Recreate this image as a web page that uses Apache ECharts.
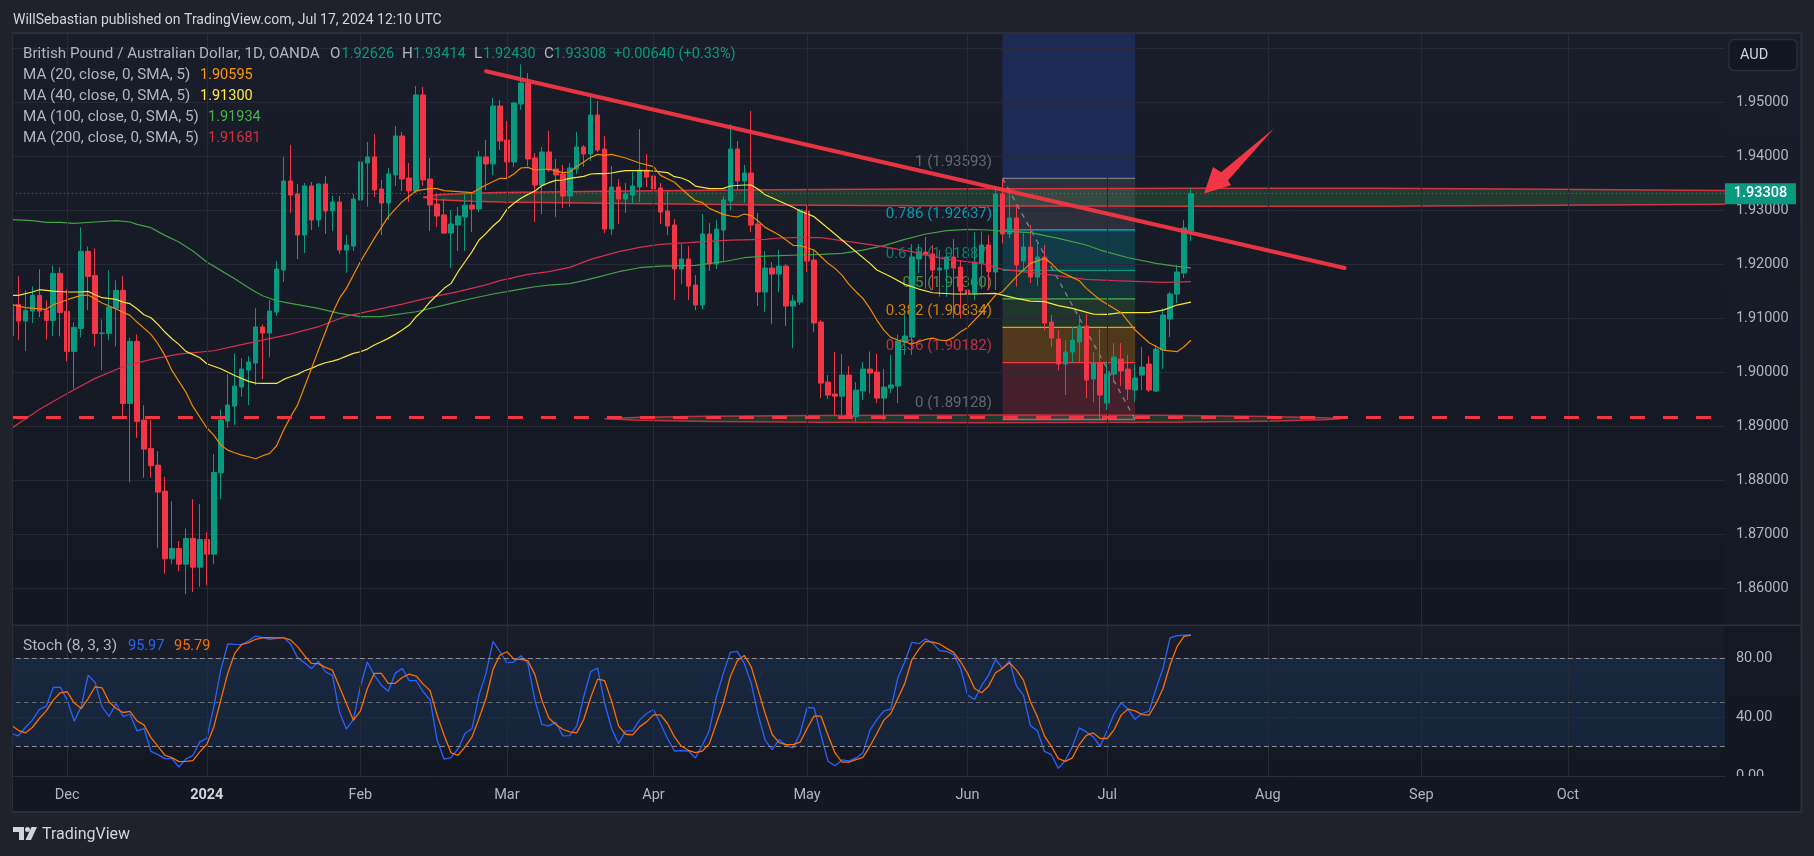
<!DOCTYPE html>
<html><head><meta charset="utf-8">
<style>html,body{margin:0;padding:0;background:#1f222b}#c{width:1814px;height:856px}</style>
<script src="https://cdn.jsdelivr.net/npm/echarts@6/dist/echarts.min.js"></script>
</head><body><div id="c"></div>
<script>
const opens=[1.90685,1.91259,1.90951,1.91136,1.91426,1.91148,1.90963,1.91833,1.9113,1.90389,
1.90815,1.92241,1.91796,1.9072,1.90722,1.91185,1.91519,1.89426,1.90574,1.89117,
1.88593,1.88284,1.87802,1.86549,1.86741,1.8645,1.86926,1.86395,1.86907,1.86636,
1.88142,1.89099,1.89377,1.89728,1.90043,1.90173,1.9084,1.90728,1.91117,1.91895,
1.93543,1.93302,1.92543,1.93451,1.92821,1.93488,1.92988,1.93154,1.92265,1.92339,
1.93191,1.93877,1.93988,1.93395,1.93136,1.93654,1.94377,1.93599,1.93358,1.95136,
1.9358,1.93117,1.92914,1.9258,1.92728,1.92877,1.93099,1.93025,1.93988,1.93858,
1.94932,1.94302,1.93895,1.94969,1.95358,1.93969,1.93469,1.9408,1.93765,1.93673,
1.93265,1.93765,1.94173,1.94043,1.94765,1.94136,1.92654,1.93432,1.9321,1.93284,
1.93432,1.93747,1.93636,1.93414,1.92988,1.92728,1.91914,1.92099,1.91617,1.91247,
1.92562,1.92006,1.92636,1.93173,1.94136,1.93543,1.93691,1.92747,1.91488,1.91932,
1.91821,1.91969,1.91228,1.91302,1.92988,1.9208,1.90932,1.89821,1.8960,1.8956,
1.8995,1.89179,1.89654,1.90062,1.90006,1.89525,1.8971,1.89747,1.90562,1.90654,
1.921,1.92228,1.92191,1.91895,1.91914,1.92136,1.9195,1.91525,1.9147,1.92025,
1.92358,1.91858,1.93302,1.92562,1.92858,1.92062,1.92321,1.91765,1.92136,1.90932,
1.90617,1.90154,1.90377,1.90562,1.90858,1.89877,1.90173,1.89432,1.89969,1.90247,
1.90062,1.89673,1.8995,1.90154,1.89654,1.90414,1.90988,1.91451,1.9184,1.92626];
const closes=[1.91241,1.90951,1.91148,1.91426,1.91136,1.90963,1.91833,1.91111,1.90389,1.90833,
1.92241,1.91778,1.90722,1.9073,1.9121,1.91519,1.89426,1.90574,1.89093,1.8858,
1.88272,1.87784,1.86549,1.86741,1.8645,1.86926,1.86395,1.86907,1.86636,1.88148,
1.89117,1.89395,1.89747,1.90062,1.90191,1.9084,1.90728,1.91136,1.91914,1.93543,
1.93284,1.92543,1.93451,1.92821,1.93488,1.92988,1.93154,1.92265,1.92358,1.9321,
1.93895,1.93988,1.93377,1.93136,1.93673,1.94377,1.9358,1.93358,1.95136,1.93562,
1.93099,1.92895,1.9258,1.92747,1.92895,1.93099,1.93025,1.93988,1.93858,1.94932,
1.94284,1.93895,1.94988,1.95358,1.93951,1.93469,1.9408,1.93747,1.93654,1.93265,
1.93784,1.94173,1.94043,1.94765,1.94117,1.92654,1.93432,1.9321,1.93302,1.93451,
1.93747,1.93617,1.93395,1.92969,1.9271,1.91914,1.92099,1.91599,1.91247,1.92562,
1.92006,1.92654,1.93191,1.94136,1.93543,1.93691,1.92728,1.91488,1.91932,1.91821,
1.91969,1.91228,1.91321,1.93006,1.92062,1.90914,1.89802,1.8958,1.8956,1.8995,
1.89179,1.89673,1.90062,1.89988,1.89525,1.89728,1.89765,1.9058,1.90673,1.92136,
1.92228,1.92173,1.91895,1.91932,1.92136,1.91932,1.91506,1.9147,1.92043,1.92358,
1.91864,1.93302,1.92562,1.92858,1.91988,1.92321,1.91765,1.92136,1.90914,1.90636,
1.90154,1.90377,1.90599,1.90858,1.89858,1.90173,1.8958,1.89969,1.90284,1.90025,
1.89691,1.89895,1.90099,1.89673,1.90432,1.91062,1.91451,1.91858,1.92673,1.93308];
const highs=[1.9135,1.91778,1.91519,1.91593,1.91907,1.91333,1.91981,1.91944,1.91537,1.90926,
1.92685,1.92333,1.92296,1.90981,1.91889,1.91704,1.91778,1.90648,1.90704,1.89395,
1.89117,1.88543,1.88068,1.87617,1.86877,1.87111,1.87654,1.87562,1.87043,1.88488,
1.89315,1.89969,1.90352,1.90259,1.90302,1.91191,1.9089,1.9134,1.92062,1.93988,
1.9421,1.93488,1.93506,1.93525,1.935,1.93636,1.93265,1.93265,1.92543,1.93302,
1.9458,1.94265,1.94414,1.93562,1.93784,1.94562,1.9445,1.93877,1.95302,1.95284,
1.93969,1.93315,1.9321,1.93006,1.93062,1.93302,1.93302,1.94099,1.94302,1.9508,
1.95043,1.94654,1.95006,1.95703,1.95543,1.94062,1.94173,1.94469,1.93951,1.9384,
1.93877,1.94451,1.9421,1.95099,1.95025,1.94377,1.93821,1.9358,1.93506,1.9371,
1.94506,1.94043,1.93858,1.93506,1.93358,1.92839,1.92395,1.92339,1.91802,1.92932,
1.92765,1.92821,1.93265,1.94599,1.94284,1.9384,1.9484,1.92951,1.92247,1.92043,
1.92265,1.92006,1.91432,1.9303,1.93099,1.92265,1.9097,1.8995,1.90377,1.9034,
1.90117,1.8982,1.90191,1.90389,1.9034,1.90062,1.90321,1.907,1.91093,1.92377,
1.92377,1.92506,1.92358,1.92265,1.922,1.92469,1.9208,1.91833,1.92599,1.92611,
1.92543,1.93377,1.93593,1.93377,1.93117,1.92574,1.92728,1.92395,1.92358,1.9106,
1.90784,1.90599,1.9084,1.91062,1.9108,1.90377,1.90802,1.9021,1.90543,1.90543,
1.90321,1.90154,1.90469,1.90302,1.90506,1.91191,1.91494,1.91988,1.92821,1.93414];
const lows=[1.9065,1.90605,1.90395,1.90914,1.91025,1.90611,1.90673,1.90667,1.90204,1.89698,
1.90648,1.91148,1.90481,1.90037,1.90593,1.90481,1.8916,1.87964,1.88789,1.8805,
1.8805,1.86753,1.86278,1.8645,1.86321,1.85895,1.85932,1.86031,1.86062,1.8645,
1.87654,1.88975,1.89025,1.89549,1.89395,1.89765,1.89877,1.90278,1.91043,1.91673,
1.92951,1.92099,1.9221,1.92636,1.92691,1.92562,1.92617,1.92191,1.91846,1.92247,
1.92858,1.93068,1.93247,1.92543,1.92821,1.93451,1.93358,1.93154,1.9332,1.93451,
1.92617,1.92691,1.92562,1.91932,1.92247,1.92247,1.92599,1.92969,1.93377,1.93654,
1.94117,1.93599,1.93802,1.94858,1.93821,1.92784,1.92932,1.9371,1.92877,1.93043,
1.93062,1.93673,1.93802,1.93914,1.9408,1.9258,1.92543,1.92747,1.92951,1.93136,
1.93154,1.93432,1.93309,1.92747,1.92543,1.9134,1.91636,1.9134,1.91154,1.91173,
1.91877,1.91914,1.92043,1.93006,1.93377,1.93136,1.92599,1.91228,1.91117,1.90895,
1.91488,1.90858,1.90451,1.91247,1.91858,1.90747,1.89525,1.89506,1.8921,1.8921,
1.8915,1.89086,1.89488,1.89611,1.89432,1.89117,1.89617,1.89432,1.90327,1.90321,
1.91833,1.9155,1.91525,1.914,1.914,1.91,1.91,1.90957,1.9134,1.9155,
1.91525,1.91525,1.92389,1.92488,1.91586,1.91895,1.91654,1.91599,1.90784,1.90469,
1.90043,1.8958,1.90173,1.90191,1.89525,1.8945,1.89142,1.89302,1.89815,1.89747,
1.89488,1.8945,1.89673,1.89636,1.89636,1.90062,1.90654,1.91284,1.91747,1.9243];

const ma20=[[0,1.91259],[2,1.91198],[5,1.91167],[6,1.91253],[8,1.91346],[10,1.91426],[11,1.91432],[13,1.91284],[15,1.91173],[17,1.91056],[18,1.90932],[20,1.90704],[21,1.90531],[22,1.90315],[23,1.90037],[25,1.89636],[26,1.8937],[28,1.88975],[29,1.8884],[30,1.88654],[31,1.88562],[32,1.88512],[33,1.88469],[34,1.88438],[35,1.88401],[36,1.88457],[37,1.885],[38,1.88642],[39,1.88932],[40,1.89179],[41,1.89395],[42,1.89735],[43,1.90074],[44,1.90414],[45,1.90753],[46,1.91093],[47,1.9137],[48,1.91556],[50,1.92049],[52,1.92481],[54,1.92883],[56,1.9316],[58,1.93364],[60,1.93401],[61,1.93401],[62,1.93364],[64,1.93346],[66,1.93327],[68,1.93469],[70,1.93593],[71,1.93593],[72,1.93673],[73,1.93784],[74,1.93796],[75,1.93747],[77,1.93765],[79,1.93698],[80,1.9371],[81,1.93809],[83,1.93981],[84,1.94037],[85,1.94019],[86,1.94037],[88,1.93969],[90,1.93877],[92,1.93809],[93,1.93648],[95,1.93519],[97,1.93284],[98,1.93179],[99,1.93142],[100,1.93037],[102,1.92926],[103,1.92895],[104,1.92877],[105,1.92932],[106,1.92901],[107,1.92802],[108,1.92685],[110,1.92543],[111,1.92451],[112,1.92352],[113,1.92346],[115,1.92265],[116,1.92142],[117,1.92019],[118,1.91926],[119,1.91802],[120,1.9163],[121,1.91494],[122,1.9137],[123,1.91185],[124,1.90969],[125,1.90784],[126,1.90648],[127,1.90599],[128,1.90562],[129,1.90525],[130,1.90568],[131,1.90611],[132,1.90636],[133,1.90599],[134,1.90586],[135,1.90648],[136,1.90753],[137,1.90833],[138,1.90969],[139,1.91105],[140,1.91278],[141,1.91432],[142,1.91494],[144,1.91772],[146,1.92019],[148,1.92111],[149,1.92019],[150,1.91883],[152,1.91759],[153,1.91698],[154,1.91556],[156,1.9134],[158,1.91185],[159,1.91105],[161,1.90784],[163,1.90549],[165,1.90414],[167,1.90383],[168,1.90475],[169,1.90595]];
const ma40=[[0,1.91426],[1,1.91426],[3,1.91488],[4,1.91531],[6,1.91506],[8,1.91488],[10,1.91488],[11,1.915],[12,1.91438],[13,1.91383],[15,1.91352],[16,1.91302],[17,1.91272],[18,1.91179],[19,1.91068],[20,1.91012],[21,1.90889],[22,1.90747],[23,1.90623],[24,1.90519],[25,1.90389],[26,1.90333],[27,1.90272],[28,1.9016],[30,1.90068],[32,1.89944],[34,1.89833],[35,1.89802],[36,1.89796],[38,1.89796],[39,1.8987],[40,1.8992],[41,1.89963],[42,1.90031],[43,1.90074],[44,1.90136],[45,1.90179],[46,1.9021],[47,1.90247],[48,1.90302],[49,1.90352],[50,1.90383],[51,1.90432],[52,1.90506],[53,1.90568],[54,1.9063],[55,1.90704],[56,1.90784],[57,1.90877],[58,1.91031],[59,1.91154],[60,1.91309],[61,1.91432],[62,1.91556],[63,1.91648],[64,1.91864],[65,1.92049],[66,1.92235],[67,1.92451],[68,1.92574],[69,1.9271],[70,1.92821],[71,1.93019],[72,1.9313],[73,1.93222],[74,1.93296],[75,1.93358],[76,1.93457],[77,1.93512],[78,1.93556],[79,1.93562],[80,1.93593],[81,1.93611],[82,1.9363],[83,1.93673],[84,1.93679],[85,1.93679],[86,1.93691],[87,1.93716],[88,1.93735],[90,1.93735],[92,1.93728],[94,1.93698],[95,1.93623],[96,1.93599],[97,1.93549],[98,1.9345],[99,1.93426],[100,1.93401],[102,1.93407],[103,1.93451],[105,1.93469],[106,1.93469],[107,1.93389],[108,1.9329],[110,1.93173],[112,1.93056],[113,1.92988],[115,1.92883],[117,1.92667],[119,1.92451],[121,1.92235],[123,1.92019],[124,1.91895],[126,1.91772],[128,1.9163],[130,1.91543],[132,1.91475],[135,1.91451],[138,1.91451],[141,1.91463],[142,1.91432],[144,1.9137],[146,1.91321],[148,1.91309],[150,1.91235],[152,1.91185],[155,1.9108],[157,1.91074],[159,1.91105],[163,1.91105],[165,1.91154],[167,1.91247],[169,1.913]];
const ma100=[[0,1.92827],[3,1.92809],[5,1.92778],[7,1.92778],[9,1.92759],[12,1.92784],[15,1.92809],[17,1.92784],[18,1.92741],[20,1.92679],[22,1.92537],[24,1.92414],[26,1.92247],[28,1.92043],[30,1.91889],[32,1.91735],[34,1.91568],[35,1.91488],[36,1.9142],[38,1.91327],[40,1.91278],[44,1.91185],[47,1.91093],[50,1.91031],[53,1.91031],[58,1.91123],[62,1.91247],[65,1.9134],[69,1.91451],[73,1.91543],[75,1.91586],[77,1.91617],[80,1.91642],[82,1.91698],[84,1.91765],[87,1.91864],[90,1.91938],[93,1.91969],[98,1.91981],[102,1.92049],[105,1.92123],[108,1.92154],[110,1.9216],[113,1.92173],[116,1.92185],[119,1.92204],[122,1.92265],[125,1.92346],[128,1.92463],[131,1.92562],[134,1.92623],[137,1.92648],[140,1.92636],[142,1.92617],[146,1.92586],[150,1.92481],[154,1.92358],[156,1.92265],[160,1.92123],[164,1.92019],[167,1.91963],[169,1.91934]];
const ma200=[[0,1.88963],[4,1.89315],[8,1.89611],[12,1.89889],[16,1.90105],[20,1.90241],[24,1.9034],[29,1.90401],[32,1.90488],[36,1.90599],[40,1.9071],[44,1.90846],[48,1.91043],[52,1.91154],[56,1.91265],[60,1.91389],[64,1.91494],[68,1.9162],[70,1.91698],[74,1.91815],[77,1.91864],[80,1.91944],[83,1.92093],[87,1.92235],[90,1.92315],[93,1.9237],[97,1.92401],[103,1.9245],[108,1.92463],[110,1.92488],[113,1.925],[116,1.92494],[119,1.92438],[124,1.92346],[129,1.92235],[134,1.92093],[139,1.92019],[142,1.91907],[148,1.91821],[154,1.91722],[158,1.91698],[162,1.91679],[165,1.91667],[169,1.91681]];

const stochK=[28.9,27.3,33.0,38.0,45.2,47.5,60.2,60.5,51.6,37.3,47.0,68.6,63.6,47.0,40.5,49.3,40.5,42.0,30.7,32.3,16.8,14.5,11.8,11.8,6.1,11.6,13.9,23.2,25.7,47.0,72.0,89.8,89.5,89.3,92.0,95.2,94.1,93.0,93.6,94.3,89.8,80.5,77.0,73.0,78.0,70.9,68.4,43.6,32.0,38.4,60.7,77.5,68.6,61.8,57.7,69.8,73.2,64.8,64.8,57.3,51.6,24.3,11.4,12.5,18.6,28.9,32.3,55.0,69.8,91.6,84.5,77.0,77.5,81.8,76.6,51.6,35.0,34.1,36.6,27.3,27.5,33.9,53.9,71.1,73.4,49.3,32.3,22.0,30.7,30.7,38.0,42.5,45.2,35.7,25.5,17.0,17.3,17.0,12.3,20.9,31.1,53.9,69.8,84.1,84.8,76.6,63.0,41.4,24.3,18.0,24.8,20.7,19.1,28.9,46.6,46.4,27.7,10.0,7.0,10.9,10.2,12.3,15.7,31.1,38.4,44.3,45.5,66.8,77.7,90.9,90.0,93.4,90.2,85.2,84.8,82.5,73.2,55.0,52.0,61.4,68.6,79.3,73.2,78.4,61.1,55.0,34.3,30.7,16.8,14.5,5.2,10.7,19.8,32.7,30.0,26.6,20.2,31.1,42.5,49.8,45.2,38.6,42.5,44.1,59.5,73.2,94.0,95.4,95.8,95.97];
const stochD=[34.5,31.1,29.3,33.0,39.1,44.3,51.6,56.6,57.3,49.8,45.9,52.7,60.7,60.0,50.5,45.9,43.2,43.9,37.5,34.8,26.1,20.2,14.1,12.5,9.8,10.0,10.5,16.4,21.4,33.4,51.6,69.8,83.4,89.5,90.7,93.0,94.1,94.1,93.9,93.9,92.5,88.0,81.8,76.6,76.4,73.9,72.0,60.7,49.3,38.0,44.1,59.5,69.8,69.8,63.0,63.0,67.0,69.3,68.0,62.5,58.0,41.4,27.7,15.7,14.1,19.8,26.6,39.1,52.7,72.5,82.3,84.5,79.5,79.3,78.4,69.1,51.6,39.5,35.0,31.8,30.0,29.3,38.4,53.4,65.9,64.8,50.9,33.9,28.4,28.0,33.4,36.8,41.6,41.6,35.7,26.6,20.2,17.5,15.9,17.0,22.0,35.7,49.3,67.5,78.4,82.0,74.3,58.4,42.5,28.2,22.7,21.4,21.4,23.0,32.3,40.7,40.7,27.7,15.7,9.5,9.5,11.1,12.7,20.2,28.9,38.0,42.5,52.7,63.0,78.9,86.1,91.6,91.1,89.8,86.8,84.1,77.7,69.8,59.5,56.6,61.1,70.2,73.2,77.0,72.0,65.2,50.5,40.2,27.3,20.2,11.8,10.0,12.3,21.4,27.7,29.3,25.5,25.5,31.6,41.4,45.5,44.3,41.8,41.4,49.3,59.5,75.5,88.0,94.9,95.79];

const tickIndex=[8,28,50,71,92,114,137,157,180,202,223];
const tickLabels=['Dec','2024','Feb','Mar','Apr','May','Jun','Jul','Aug','Sep','Oct'];
const fibLevels=[1,0.786,0.618,0.5,0.382,0.236,0];
const fibPrices=[1.93593,1.92637,1.91887,1.9136,1.90834,1.90182,1.89128];
const fibLine=['#787b86','#00bcd4','#089981','#4caf50','#ff9800','#f23645','#787b86'];
const fibFill=['rgba(120,123,134,0.22)','rgba(0,188,212,0.2)','rgba(8,153,129,0.2)','rgba(76,175,80,0.18)','rgba(255,152,0,0.25)','rgba(242,54,69,0.22)'];
const fibStart=142, fibEnd=161;
const trendX=[68,191], trendY=[1.95574,1.91934];
const supportPrice=1.89167, supportEnd=243.6;
const zoneTopX=[59,61,66,70,88,109,130,170,195,215,245.5];
const zoneTopY=[1.93242,1.93288,1.93316,1.93329,1.93359,1.93383,1.93397,1.93409,1.93409,1.93394,1.93369];
const zoneBotY=[1.93242,1.93196,1.93168,1.93155,1.93125,1.93101,1.93087,1.93075,1.93075,1.9309,1.93115];
const baseX=[85,90,100,115,140,165,180,188,190.5];
const baseTop=[1.89141,1.89169,1.89189,1.89204,1.89212,1.89206,1.89185,1.8916,1.89141];
const baseBot=[1.89141,1.89113,1.89093,1.89078,1.8907,1.89076,1.89097,1.89122,1.89141];
const arrowX=[170.87,172.16,173.31,180.96,174.31,174.74];
const arrowY=[1.93311,1.93803,1.93705,1.94525,1.93557,1.93465];
const lastPrice=1.93308;

// Trading-day categories starting Nov 21 2023, no bars on Dec 25 / Jan 1
const barCount=246, categories=[];
for(let d=new Date(Date.UTC(2023,10,21));categories.length<barCount;d=new Date(d.getTime()+864e5)){
  const s=d.toISOString().slice(0,10),w=d.getUTCDay();
  if(w===0||w===6||s==='2023-12-25'||s==='2024-01-01')continue;
  categories.push(s);
}

const FONT='Roboto';
const UP='#089981',DOWN='#f23645';
const band=6.98, gridLeft=7.87, gridW=band*barCount;
const paneGrad={type:'linear',x:0,y:0,x2:0,y2:1,colorStops:[{offset:0,color:'#191d29'},{offset:1,color:'#131722'}]};

function poly(xs,ys,fill,stroke,lw,z){
  return {type:'custom',coordinateSystem:'cartesian2d',xAxisIndex:2,yAxisIndex:0,silent:true,z,clip:true,
    data:[[xs[0],ys[0]]],
    renderItem:(p,api)=>({type:'polygon',shape:{points:xs.map((x,i)=>api.coord([x,ys[i]]))},style:{fill,stroke,lineWidth:lw}})};
}
function ln(data,color,width,z,extra){
  return {type:'line',xAxisIndex:2,yAxisIndex:0,data,showSymbol:false,symbol:'none',silent:true,z,
    lineStyle:Object.assign({color,width},extra||{})};
}
const series=[];
// vertical grid lines
['p','s'].forEach((k,n)=>series.push({type:'line',xAxisIndex:n?3:2,yAxisIndex:n,data:[[0,n?0:1.9]],symbol:'none',showSymbol:false,lineStyle:{width:0},silent:true,z:1,
  markLine:{silent:true,symbol:'none',label:{show:false},animation:false,lineStyle:{color:'#252a35',width:1,type:'solid'},data:tickIndex.map(i=>({xAxis:i}))}}));
// zones
series.push(poly(zoneTopX.concat(zoneTopX.slice().reverse()),zoneTopY.concat(zoneBotY.slice().reverse()),'rgba(76,175,80,0.22)',null,0,1));
series.push(ln(zoneTopX.map((x,i)=>[x,zoneTopY[i]]),'rgba(242,54,69,0.85)',1.5,2));
series.push(ln(zoneTopX.map((x,i)=>[x,zoneBotY[i]]),'rgba(242,54,69,0.85)',1.5,2));
series.push(poly(baseX.concat(baseX.slice().reverse()),baseTop.concat(baseBot.slice().reverse()),'rgba(76,175,80,0.2)','rgba(242,54,69,0.75)',1.5,1));
// fib: blue block, fills, lines, labels
series.push(poly([fibStart,fibEnd,fibEnd,fibStart],[1.96283,1.96283,fibPrices[0],fibPrices[0]],'#1c2b56',null,0,1));
fibFill.forEach((c,i)=>series.push(poly([fibStart,fibEnd,fibEnd,fibStart],[fibPrices[i],fibPrices[i],fibPrices[i+1],fibPrices[i+1]],c,null,0,1)));
fibPrices.forEach((p,i)=>series.push(ln([[fibStart,p],[fibEnd,p]],fibLine[i],1.3,2)));
series.push(ln([[fibStart,fibPrices[0]],[fibEnd,fibPrices[6]]],'rgba(150,153,165,0.75)',1.4,2,{type:[5,5]}));
series.push({type:'scatter',xAxisIndex:2,yAxisIndex:0,silent:true,z:2,symbolSize:1,itemStyle:{color:'rgba(0,0,0,0)'},
  data:fibPrices.map((p,i)=>({value:[fibStart,p],label:{color:fibLine[i],formatter:fibLevels[i]+' ('+p.toFixed(5)+')'}})),
  label:{show:true,position:'left',distance:10,offset:[0,-16],fontFamily:FONT,fontSize:15}});
// candles
series.push({type:'candlestick',xAxisIndex:0,yAxisIndex:0,silent:true,z:3,barWidth:5,
  itemStyle:{color:UP,color0:DOWN,borderColor:UP,borderColor0:DOWN,borderWidth:1},
  data:opens.map((o,i)=>[o,closes[i],lows[i],highs[i]])});
// moving averages
series.push(ln(ma100,'#43a047',1.2,4));
series.push(ln(ma200,'#d32f4e',1.2,4));
series.push(ln(ma40,'#f5e63b',1.2,4));
series.push(ln(ma20,'#f08a00',1.2,4));
// drawings
series.push(ln([[0,supportPrice],[supportEnd,supportPrice]],'#f23645',3,6,{type:[15,18],dashOffset:-1.6}));
series.push(ln(trendX.map((x,i)=>[x,trendY[i]]),'#f23645',4,6,{cap:'round',opacity:0.95}));
series.push(poly(arrowX,arrowY,'#f23645',null,0,6));
// last price
series.push({type:'line',xAxisIndex:2,yAxisIndex:0,data:[[169,lastPrice]],symbol:'none',showSymbol:false,lineStyle:{width:0},silent:true,z:8,
  markLine:{silent:true,symbol:'none',animation:false,precision:6,lineStyle:{color:UP,width:1,type:[1,3]},
    label:{show:true,position:'end',distance:0,align:'left',verticalAlign:'middle',formatter:'{a|'+lastPrice.toFixed(5)+'}',
      rich:{a:{color:'#fff',backgroundColor:UP,fontFamily:FONT,fontSize:14.5,fontWeight:500,width:71,height:21,lineHeight:21,align:'center'}}},
    data:[{yAxis:lastPrice}]}});
// stochastic
series.push({type:'line',xAxisIndex:1,yAxisIndex:1,data:stochK,symbol:'none',showSymbol:false,silent:true,z:4,lineStyle:{color:'#2962ff',width:1.3},
  markArea:{silent:true,animation:false,itemStyle:{color:'rgba(33,100,180,0.17)'},data:[[{yAxis:80},{yAxis:20}]]},
  markLine:{silent:true,symbol:'none',animation:false,label:{show:false},data:[
    {yAxis:80,lineStyle:{color:'#8a8d98',width:1,type:[5,3]}},
    {yAxis:50,lineStyle:{color:'#666a75',width:1,type:[5,3]}},
    {yAxis:20,lineStyle:{color:'#8a8d98',width:1,type:[5,3]}}]}});
series.push({type:'line',xAxisIndex:1,yAxisIndex:1,data:stochD,symbol:'none',showSymbol:false,silent:true,z:5,lineStyle:{color:'#ff6d00',width:1.3}});

function txt(text,x,y,fill,size){
  return {type:'text',x,y,z:101,silent:true,style:{text,fill,font:(size||14)+'px '+FONT,verticalAlign:'middle',textVerticalAlign:'middle'}};
}
const GREY='#b2b5be', LEG=15.2, VAL=14.5;
const graphic=[
  {type:'rect',z:0,silent:true,shape:{x:1724,y:33,width:78,height:743},style:{fill:paneGrad}},
  {type:'rect',z:5,silent:true,shape:{x:12,y:776,width:1790,height:36},style:{fill:'#131722'}},
  {type:'rect',z:100,silent:true,shape:{x:0,y:0,width:12,height:856},style:{fill:'#1f222b'}},
  {type:'rect',z:100,silent:true,shape:{x:12,y:33,width:1,height:780},style:{fill:'#2a2e39'}},
  {type:'rect',z:100,silent:true,shape:{x:12,y:32,width:1790,height:2},style:{fill:'#2a2e39'}},
  {type:'rect',z:100,silent:true,shape:{x:1800.5,y:32,width:2,height:781},style:{fill:'#2a2e39'}},
  {type:'rect',z:100,silent:true,shape:{x:1802.5,y:0,width:12,height:856},style:{fill:'#1f222b'}},
  {type:'rect',z:100,silent:true,shape:{x:12,y:811,width:1790,height:2},style:{fill:'#2a2e39'}},
  {type:'rect',z:100,silent:true,shape:{x:12,y:624.5,width:1790,height:1.5},style:{fill:'#2a2e39'}},
  {type:'rect',z:100,silent:true,shape:{x:1729,y:39.5,width:68,height:31,r:5},style:{fill:'#131722',stroke:'#2a2e39',lineWidth:1.5}},
  txt('AUD',1740,55,'#d1d4dc',14.5),
  txt('WillSebastian published on TradingView.com, Jul 17, 2024 12:10 UTC',13,20,'#d1d4dc',14),
  txt('British Pound / Australian Dollar, 1D, OANDA',23,54,GREY,LEG),
  txt('O',330,54,GREY,LEG),txt('1.92626',341.5,54,UP,VAL),
  txt('H',402,54,GREY,LEG),txt('1.93414',413,54,UP,VAL),
  txt('L',474,54,GREY,LEG),txt('1.92430',483,54,UP,VAL),
  txt('C',544,54,GREY,LEG),txt('1.93308',553.5,54,UP,VAL),
  txt('+0.00640 (+0.33%)',614,54,UP,VAL),
  txt('MA (20, close, 0, SMA, 5)',23,75,GREY,LEG),txt('1.90595',200,75,'#ff9800',VAL),
  txt('MA (40, close, 0, SMA, 5)',23,96,GREY,LEG),txt('1.91300',200,96,'#ffeb3b',VAL),
  txt('MA (100, close, 0, SMA, 5)',23,117,GREY,LEG),txt('1.91934',208,117,'#4caf50',VAL),
  txt('MA (200, close, 0, SMA, 5)',23,138,GREY,LEG),txt('1.91681',208,138,'#d32f3f',VAL),
  txt('Stoch (8, 3, 3)',23,646,GREY,15.5),txt('95.97',128,646,'#2962ff',VAL),txt('95.79',174,646,'#ff6d00',VAL),
  {type:'polygon',z:101,silent:true,shape:{points:[[13,827],[24,827],[24,840],[19,840],[19,832],[13,832]]},style:{fill:'#d1d4dc'}},
  {type:'circle',z:101,silent:true,shape:{cx:27.5,cy:829.5,r:2.5},style:{fill:'#d1d4dc'}},
  {type:'polygon',z:101,silent:true,shape:{points:[[31.5,827],[37,827],[31,840],[25.5,840]]},style:{fill:'#d1d4dc'}},
  txt('TradingView',42,835,'#d1d4dc',16)
];

const chart=echarts.init(document.getElementById('c'),null,{renderer:'canvas',width:1814,height:856});
chart.setOption({
  animation:false,
  backgroundColor:'#1f222b',
  graphic:{elements:graphic},
  grid:[
    {left:gridLeft,width:gridW,top:33,height:592,show:true,borderWidth:0,backgroundColor:paneGrad},
    {left:gridLeft,width:gridW,top:625,height:151,show:true,borderWidth:0,backgroundColor:paneGrad}
  ],
  xAxis:[
    {type:'category',gridIndex:0,data:categories,boundaryGap:true,axisLine:{show:false},axisTick:{show:false},axisLabel:{show:false},splitLine:{show:false}},
    {type:'category',gridIndex:1,data:categories,boundaryGap:true,z:6,axisLine:{show:true,lineStyle:{color:'#2a2e39',width:1}},axisTick:{show:false},splitLine:{show:false},
      axisLabel:{show:true,margin:12,interval:(i)=>tickIndex.includes(i),color:GREY,fontFamily:FONT,fontSize:14.5,hideOverlap:false,
        formatter:(v,i)=>{const k=tickIndex.indexOf(i);if(k<0)return '';return tickLabels[k]==='2024'?'{b|2024}':tickLabels[k];},
        rich:{b:{fontWeight:'bold',color:'#d1d4dc',fontFamily:FONT,fontSize:14.5}}}},
    {type:'value',gridIndex:0,min:-0.5,max:barCount-0.5,show:false},
    {type:'value',gridIndex:1,min:-0.5,max:barCount-0.5,show:false}
  ],
  yAxis:[
    {type:'value',gridIndex:0,position:'right',min:1.85324,max:1.96283,minInterval:0.01,maxInterval:0.01,scale:true,z:2,
      axisLine:{show:false},axisTick:{show:false},
      splitLine:{show:true,showMinLine:false,showMaxLine:false,lineStyle:{color:'#252a35',width:1}},
      axisLabel:{margin:11,color:GREY,fontFamily:FONT,fontSize:14.5,showMinLabel:false,showMaxLabel:false,align:'left',
        formatter:v=>Math.abs(v*100-Math.round(v*100))<1e-6?v.toFixed(5):''}},
    {type:'value',gridIndex:1,position:'right',min:0,max:102.7,minInterval:40,maxInterval:40,z:2,
      axisLine:{show:false},axisTick:{show:false},
      splitLine:{show:true,showMinLine:false,showMaxLine:false,lineStyle:{color:'#252a35',width:1}},
      axisLabel:{margin:11,color:GREY,fontFamily:FONT,fontSize:14.5,showMaxLabel:false,align:'left',formatter:v=>v%40===0?v.toFixed(2):''}}
  ],
  series
});
</script></body></html>
